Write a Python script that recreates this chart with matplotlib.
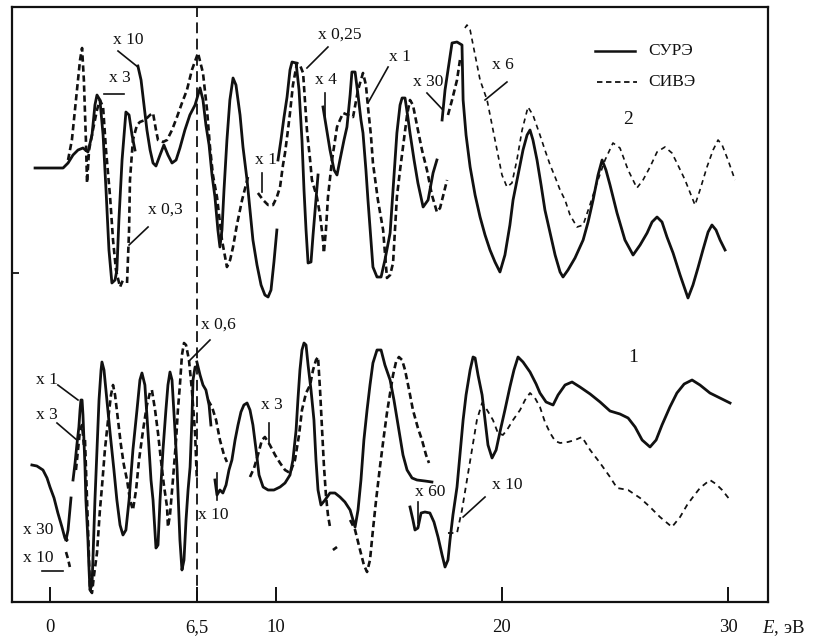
import numpy as np
import matplotlib
matplotlib.use("Agg")
import matplotlib.pyplot as plt

nan = np.nan

# Curve 2 (upper), СУРЭ - pieces split where the scale factor changes
e_sure2 = [-0.66, 0.58, 0.80, 1.02, 1.24, 1.46, 1.68, 1.86, 1.99, 2.08, 2.21, 2.35, 2.48, 2.61, 2.74, 2.88,
           2.96, 3.05, 3.19, 3.36, 3.50, 3.63, 3.76, nan,
           3.89, 4.03, 4.16, 4.29, 4.43, 4.56, 4.69, 4.87, 5.04, 5.22, 5.40, 5.58, 5.75, 5.97, 6.19, 6.42,
           6.55, 6.64, 6.77, 6.90, 7.04, 7.17, 7.30, 7.43, 7.52, 7.61, 7.70, 7.83, 7.96, 8.10, 8.23, 8.41,
           8.54, 8.72, 8.85, 8.98, 9.16, 9.34, 9.51, 9.65, 9.78, 9.91, 10.04, nan,
           10.09, 10.22, 10.35, 10.49, 10.62, 10.71, 10.89, 11.02, 11.15, 11.24, 11.33, 11.42, 11.55, 11.64,
           11.77, 11.86, nan,
           12.08, 12.21, 12.39, 12.57, 12.70, 12.83, 13.01, 13.14, 13.28, 13.36, 13.50, 13.63, 13.76, 13.85,
           13.98, 14.07, 14.20, 14.29, 14.47, 14.65, 14.82, 15.05, 15.18, 15.35, 15.49, 15.58, 15.71, 15.84,
           15.93, 16.11, 16.28, 16.51, 16.73, 16.95, 17.12, nan,
           17.35, 17.48, 17.70, 17.79, 18.01, 18.23, 18.28, 18.41, 18.59, 18.81, 19.03, 19.25, 19.47, 19.69,
           19.91, 20.13, 20.35, 20.49, 20.71, 20.93, 21.11, 21.24, 21.37, 21.55, 21.73, 21.90, 22.13, 22.35,
           22.57, 22.70, 22.92, 23.23, 23.59, 23.81, 24.03, 24.25, 24.43, 24.60, 24.78, 25.09, 25.44, 25.80,
           26.11, 26.42, 26.64, 26.86, 27.08, 27.30, 27.57, 27.88, 28.23, 28.45, 28.67, 28.89, 29.12, 29.29,
           29.47, 29.65, 29.87]
i_sure2 = [434, 434, 439, 447, 452, 454, 450, 467, 497, 507, 502, 467, 412, 352, 319, 322,
           332, 382, 442, 490, 487, 467, 452, nan,
           536, 522, 497, 472, 452, 439, 436, 447, 457, 447, 439, 442, 454, 472, 487, 497,
           507, 514, 502, 477, 457, 427, 405, 372, 355, 372, 412, 462, 502, 524, 517, 487,
           455, 422, 392, 362, 337, 317, 307, 305, 312, 340, 372, nan,
           442, 462, 484, 505, 532, 540, 539, 512, 462, 412, 372, 339, 340, 367,
           402, 427, nan,
           495, 477, 452, 432, 427, 442, 462, 475, 507, 530, 530, 507, 482, 469,
           432, 402, 362, 335, 325, 325, 342, 369, 412, 469, 497, 504, 504, 484,
           469, 442, 419, 395, 402, 429, 442, nan,
           482, 512, 545, 559, 560, 557, 502, 467, 435, 407, 385, 367, 352, 340,
           330, 347, 377, 402, 427, 452, 467, 472, 462, 442, 417, 392, 369, 347,
           330, 325, 332, 344, 362, 380, 402, 427, 442, 432, 417, 389, 362, 347,
           357, 369, 380, 385, 380, 365, 349, 327, 304, 317, 334, 352, 370, 377,
           372, 362, 352]

# Curve 2 (upper), СИВЭ
e_sive2 = [0.80, 0.97, 1.15, 1.33, 1.42, 1.50, 1.59, 1.64, 1.73, 1.90, 2.08, 2.21, 2.35, 2.48, 2.66, 2.79,
           2.92, 3.10, 3.23, nan,
           3.41, 3.50, 3.54, 3.67, 3.85, 3.98, 4.20, 4.43, 4.56, 4.69, 4.78, 5.00, 5.18, 5.40, 5.62, 5.84,
           6.06, 6.28, 6.55, 6.77, 6.95, 7.08, 7.21, 7.39, 7.61, 7.83, 7.97, 8.10, 8.27, 8.50, 8.76, nan,
           9.20, 9.43, 9.65, 9.87, 10.04, 10.18, 10.31, 10.40, 10.53, 10.62, 10.75, 10.93, 11.06, 11.20,
           11.28, 11.37, 11.51, 11.59, 11.81, 11.95, 12.08, 12.12, 12.21, 12.30, 12.48, 12.70, 12.83, 12.97,
           13.19, 13.41, 13.63, 13.85, 13.98, 14.07, 14.20, 14.29, 14.51, 14.74, 14.91, 15.05, 15.18, 15.35,
           15.49, 15.62, 15.80, 15.93, 16.06, 16.28, 16.46, 16.68, 16.90, 17.12, 17.26, 17.57, nan,
           17.61, 17.79, 18.01, 18.14]
i_sive2 = [442, 462, 502, 542, 554, 522, 462, 419, 452, 472, 492, 502, 495, 452, 405, 362,
           332, 315, 322, nan,
           319, 372, 422, 462, 477, 480, 482, 487, 489, 472, 462, 460, 462, 472, 485, 499,
           512, 532, 549, 529, 492, 455, 427, 405, 362, 335, 342, 355, 377, 402, 425, nan,
           409, 402, 397, 397, 405, 415, 437, 449, 472, 489, 517, 539, 537, 529,
           502, 472, 442, 422, 405, 387, 362, 349, 372, 405, 442, 475, 482, 489,
           487, 485, 512, 529, 517, 495, 467, 439, 402, 372, 324, 327, 339, 405,
           432, 455, 487, 502, 497, 472, 452, 432, 407, 390, 394, 422, nan,
           487, 502, 522, 542]
# x6 piece of upper СИВЭ (thinner trace)
e_sive2_x6 = [18.36, 18.45, 18.59, 18.81, 19.03, 19.34, 19.56, 19.78, 20.00, 20.22, 20.44, 20.66, 20.89,
              21.15, 21.37, 21.68, 21.90, 22.13, 22.35, 22.57, 22.79, 23.01, 23.32, 23.59, 23.89, 24.20,
              24.56, 24.91, 25.22, 25.58, 25.97, 26.24, 26.55, 26.86, 27.21, 27.52, 27.74, 28.10, 28.54,
              28.76, 29.07, 29.34, 29.56, 29.74, 30.00, 30.31]
i_sive2_x6 = [574, 577, 572, 547, 522, 502, 477, 452, 427, 415, 419, 442, 472,
              495, 487, 467, 452, 437, 425, 412, 402, 387, 375, 377, 397, 419,
              442, 459, 454, 432, 414, 422, 435, 450, 455, 449, 439, 422, 397,
              412, 435, 452, 462, 457, 442, 422]

# Curve 1 (lower), СУРЭ
e_sure1 = [-0.80, -0.58, -0.31, -0.13, 0.00, 0.18, 0.35, 0.53, 0.66, 0.75, nan,
           0.71, 0.80, 0.88, 0.93, nan,
           1.02, 1.11, 1.19, 1.28, 1.33, 1.37, 1.42, 1.46, 1.55, 1.59, 1.68, 1.73, 1.77, 1.86, 1.90, 1.99,
           2.08, 2.17, 2.26, 2.30, 2.39, 2.52, 2.66, 2.83, 2.96, 3.10, 3.23, 3.36, 3.50, 3.67, 3.85, 3.98,
           4.07, 4.20, 4.34, 4.47, 4.56, 4.69, 4.78, 4.87, 5.00, 5.13, 5.22, 5.31, 5.40, 5.53, 5.62, 5.75,
           5.84, 5.93, 6.02, 6.11, 6.20, 6.28, 6.33, 6.42, 6.50, nan,
           6.50, 6.64, 6.77, 6.90, 7.04, 7.12, nan,
           7.30, 7.39, 7.52, 7.65, 7.79, 7.92, 8.05, 8.19, 8.32, 8.45, 8.58, 8.72, 8.85, 8.98, 9.12, 9.25,
           9.43, 9.65, 9.91, 10.18, 10.40, 10.62, 10.75, 10.89, 10.97, 11.06, 11.15, 11.24, 11.33, 11.42,
           11.55, 11.68, 11.77, 11.86, 11.99, 12.17, 12.39, 12.61, 12.83, 13.05, 13.28, 13.50, 13.63, 13.76,
           13.89, 14.03, 14.16, 14.29, 14.47, 14.65, 14.82, 15.05, 15.22, 15.40, 15.62, 15.80, 16.02, 16.24,
           16.59, 16.90, nan,
           15.93, 16.06, 16.15, 16.28, 16.42, 16.59, 16.81, 16.99, 17.17, 17.35, 17.48, 17.61, 17.70, 17.83,
           18.01, 18.14, 18.28, 18.41, 18.59, 18.72, 18.81, 18.94, 19.12, 19.25, 19.38, 19.56, 19.74, 19.91,
           20.13, 20.35, 20.53, 20.71, 20.93, 21.24, 21.51, 21.68, 21.95, 22.26, 22.48, 22.79, 23.10, 23.45,
           23.90, 24.34, 24.78, 25.22, 25.58, 25.89, 26.20, 26.55, 26.82, 27.08, 27.43, 27.74, 28.06, 28.41,
           28.76, 29.20, 29.65, 30.09]
i_sure1 = [137, 136, 132, 124, 115, 104, 89, 75, 64, 62, nan,
           62, 72, 92, 104, nan,
           122, 139, 157, 175, 192, 202, 202, 187, 135, 102, 62, 32, 12, 17, 42, 102,
           152, 202, 232, 240, 232, 202, 169, 132, 102, 77, 67, 72, 102, 152, 192, 222,
           229, 217, 169, 122, 102, 54, 57, 102, 152, 192, 217, 230, 222, 172, 135, 62,
           32, 42, 82, 112, 135, 182, 222, 235, 235, nan,
           240, 227, 217, 212, 197, 177, nan,
           122, 107, 112, 109, 117, 132, 142, 162, 177, 190, 197, 199, 192, 177, 152, 127,
           115, 112, 112, 115, 119, 127, 142, 172, 202, 232, 252, 259, 257, 237,
           212, 182, 142, 112, 97, 102, 109, 109, 105, 100, 92, 75, 92, 122,
           162, 192, 217, 239, 252, 252, 237, 222, 202, 177, 147, 132, 124, 122,
           121, 120, nan,
           95, 82, 72, 74, 89, 90, 89, 80, 65, 47, 35, 42, 62, 87,
           115, 147, 182, 207, 232, 245, 244, 227, 207, 182, 157, 144, 152, 170,
           192, 215, 232, 245, 240, 230, 218, 209, 200, 197, 207, 217, 220, 215,
           208, 200, 191, 188, 184, 175, 162, 155, 162, 177, 195, 209, 218, 222,
           217, 209, 204, 199]

# Curve 1 (lower), СИВЭ
e_sive1 = [0.71, 0.80, 0.88, nan,
           1.15, 1.24, 1.33, 1.42, 1.50, nan,
           1.55, 1.64, 1.73, 1.77, 1.86, 1.95, 2.08, 2.21, 2.30, 2.43, 2.57, 2.70, 2.79, 2.88, 3.01, 3.14,
           3.27, 3.41, 3.54, 3.67, 3.81, 3.94, 4.12, 4.29, 4.43, 4.51, 4.65, 4.78, 4.91, 5.04, 5.18, 5.22,
           5.31, 5.44, 5.58, 5.66, 5.75, 5.84, 5.93, 6.02, 6.15, 6.28, 6.42, 6.50, nan,
           6.99, 7.17, 7.35, 7.52, 7.70, 7.83, nan,
           8.85, 9.03, 9.20, 9.38, 9.51, 9.73, 9.96, 10.18, 10.40, 10.62, 10.84, 11.02, 11.15, 11.33, 11.51,
           11.64, 11.77, 11.86, 11.95, 12.04, 12.12, 12.21, 12.30, 12.39, nan,
           12.52, 12.70, nan,
           13.28, 13.50, 13.72, 13.89, 14.03, 14.16, 14.29, 14.43, 14.60, 14.78, 14.91, 15.05, 15.18, 15.31,
           15.44, 15.58, 15.71, 15.89, 16.06, 16.28, 16.46, 16.64, 16.77]
i_sive1 = [50, 43, 35, nan,
           132, 152, 172, 177, 157, nan,
           162, 102, 42, 12, 9, 27, 49, 92, 115, 152, 182, 207, 217, 207, 182, 157,
           137, 122, 102, 92, 112, 142, 172, 197, 210, 212, 192, 169, 142, 117, 95, 75,
           87, 122, 162, 192, 217, 247, 259, 257, 242, 212, 169, 122, nan,
           202, 195, 182, 162, 147, 140, nan,
           125, 134, 147, 162, 165, 157, 147, 139, 132, 129, 142, 167, 192, 209, 217,
           232, 242, 245, 212, 172, 137, 107, 87, 75, nan,
           52, 55, nan,
           82, 72, 52, 37, 30, 42, 72, 102, 135, 167, 189, 209, 227, 240,
           245, 242, 232, 212, 192, 174, 162, 147, 139]
# x10 piece of lower СИВЭ (thinner trace)
e_sive1_x10 = [17.61, 17.79, 18.01, 18.23, 18.45, 18.67, 18.89, 19.12, 19.34, 19.60, 19.82, 20.04, 20.22,
               20.49, 20.80, 21.02, 21.24, 21.46, 21.68, 21.90, 22.13, 22.35, 22.57, 22.92, 23.23, 23.54,
               23.90, 24.34, 24.78, 25.09, 25.58, 26.11, 26.55, 26.99, 27.52, 27.88, 28.19, 28.45, 28.76,
               29.20, 29.47, 29.74, 30.09]
i_sive1_x10 = [69, 69, 69, 92, 122, 152, 182, 199, 192, 182, 169, 167, 172,
               182, 192, 202, 209, 204, 195, 180, 169, 161, 159, 160, 162, 165,
               152, 139, 125, 114, 112, 104, 95, 85, 75, 85, 97, 105, 114,
               122, 118, 112, 102]

xtick_pos = [0, 6.5, 10, 20, 30]
xtick_lab = ['0', '6,5', '10', '20', '30']

plt.rcParams['font.family'] = ['Liberation Serif', 'DejaVu Serif']
plt.rcParams['mathtext.fontset'] = 'custom'
plt.rcParams['mathtext.it'] = 'Liberation Serif:italic'
plt.rcParams['mathtext.rm'] = 'Liberation Serif'

ink = '#111111'
fig = plt.figure(figsize=(8.26, 6.37), dpi=100)
ax = fig.add_axes([12 / 826, 35 / 637, 756 / 826, 595 / 637])

dash = (0, (2.4, 1.4))
ax.plot(e_sure2, i_sure2, color=ink, lw=2.0)
ax.plot(e_sive2, i_sive2, color=ink, lw=1.9, ls=dash)
ax.plot(e_sive2_x6, i_sive2_x6, color=ink, lw=1.2, ls=(0, (3, 2.5)))
ax.plot(e_sure1, i_sure1, color=ink, lw=2.0)
ax.plot(e_sive1, i_sive1, color=ink, lw=1.9, ls=dash)
ax.plot(e_sive1_x10, i_sive1_x10, color=ink, lw=1.3, ls=(0, (3, 2.5)))

ax.axvline(6.5, color=ink, lw=1.3, ls=(0, (6, 3)))

# scale-factor labels with their leader lines
fs = 12.5
notes = [
    ('x 10', 3.45, 562, (3.01, 3.89), (551, 535)),
    ('x 3', 3.10, 524, (2.39, 3.27), (508, 508)),
    ('x 0,3', 5.09, 392, (4.34, 3.50), (375, 357)),
    ('x 1', 9.56, 442, (9.38, 9.38), (429, 410)),
    ('x 0,25', 12.83, 567, (12.30, 11.37), (555, 534)),
    ('x 4', 12.21, 522, (12.17, 12.17), (509, 482)),
    ('x 1', 15.49, 545, (14.96, 14.07), (535, 499)),
    ('x 30', 16.73, 520, (16.68, 17.39), (509, 492)),
    ('x 6', 20.04, 537, (20.22, 19.25), (520, 502)),
    ('x 1', -0.13, 222, (0.35, 1.24), (217, 202)),
    ('x 3', -0.13, 187, (0.31, 1.19), (179, 162)),
    ('x 30', -0.53, 72, None, None),
    ('x 10', -0.53, 44, (-0.35, 0.58), (31, 31)),
    ('x 0,6', 7.43, 277, (7.08, 6.20), (262, 242)),
    ('x 10', 7.21, 87, (7.39, 7.39), (129, 102)),
    ('x 3', 9.82, 197, (9.69, 9.69), (179, 159)),
    ('x 60', 16.81, 110, (16.28, 16.28), (100, 79)),
    ('x 10', 20.22, 117, (19.25, 18.28), (105, 85)),
]
for txt, tx, ty, lx, ly in notes:
    ax.text(tx, ty, txt, fontsize=fs, ha='center', va='center', color=ink)
    if lx is not None:
        ax.plot(lx, ly, color=ink, lw=1.2)

# legend drawn by hand, as in the original
ax.plot([24.12, 25.88], [551, 551], color=ink, lw=1.8)
ax.plot([24.20, 25.97], [520, 520], color=ink, lw=1.3, ls=(0, (3, 2)))
ax.text(26.46, 551, 'СУРЭ', fontsize=fs, ha='left', va='center', color=ink)
ax.text(26.46, 520, 'СИВЭ', fontsize=fs, ha='left', va='center', color=ink)
ax.text(25.58, 482, '2', fontsize=14, ha='center', va='center', color=ink)
ax.text(25.80, 244, '1', fontsize=14, ha='center', va='center', color=ink)

ax.set_xlim(-1.68, 31.77)
ax.set_ylim(0, 595)
ax.set_xticks(xtick_pos)
ax.set_xticklabels(xtick_lab)
ax.set_yticks([329])
ax.set_yticklabels([])
ax.tick_params(axis='x', direction='in', length=11, width=1.4, pad=12, labelsize=13.5, colors=ink)
ax.tick_params(axis='y', direction='in', length=5, width=1.2)
for sp in ax.spines.values():
    sp.set_linewidth(1.6)
    sp.set_color(ink)
ax.text(31.5, -26, r'$E$, эВ', fontsize=13.5, ha='left', va='center', color=ink, clip_on=False)

fig.savefig('out.png', dpi=100)
